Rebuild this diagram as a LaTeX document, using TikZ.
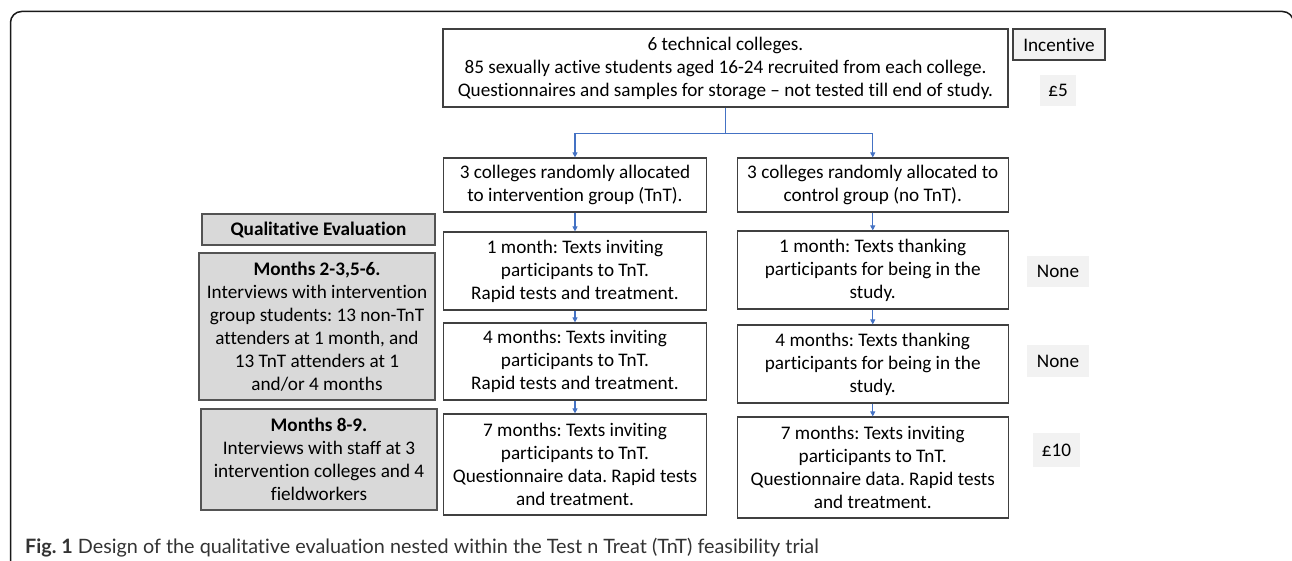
\documentclass[tikz,border=0pt]{standalone}
\usepackage{fontspec}
\setmainfont{Carlito}[Ligatures=NoCommon]
\newfontfamily\capfont{Lato}[Ligatures=NoCommon]
\usetikzlibrary{arrows.meta}
\frenchspacing
\definecolor{boxline}{HTML}{404040}
\definecolor{grayfill}{HTML}{D9D9D9}
\definecolor{lightfill}{HTML}{F2F2F2}
\definecolor{arrowblue}{HTML}{4472C4}
\definecolor{captext}{HTML}{333333}
\tikzset{
  box/.style={draw=boxline, line width=1.2pt, fill=white, align=center, inner sep=2pt,
    font=\fontsize{19.2}{23}\selectfont\frenchspacing, text=black},
  graybox/.style={box, fill=grayfill, draw=boxline!90},
  incbox/.style={box, fill=lightfill},
  payfill/.style={fill=lightfill, draw=none, align=center, inner sep=0pt,
    font=\fontsize{19.2}{23}\selectfont},
  conn/.style={draw=arrowblue, line width=1.1pt},
  arr/.style={conn, -{Triangle[length=5pt,width=5pt]}},
}
\begin{document}
\begin{tikzpicture}[x=1pt,y=-1pt]
\useasboundingbox (0,0) rectangle (1292,561);
\clip (0,0) rectangle (1292,561);
\fill[white] (0,0) rectangle (1292,561);
% outer frame
\draw[line width=1.5pt, rounded corners=11pt, black!90] (10.5,600) -- (10.5,11.5) -- (1293.5,11.5) -- (1293.5,600);

% main column
\node[box, minimum width=565, minimum height=78] (top) at (725.5,68)
  {6 technical colleges.\\85 sexually active students aged 16-24 recruited from each college.\\Questionnaires and samples for storage -- not tested till end of study.};
\node[incbox, minimum width=92, minimum height=31] (inc) at (1059,44.5) {Incentive};
\node[payfill, minimum width=36, minimum height=31] (p5) at (1058,90.5) {£5};

\node[box, minimum width=263, minimum height=54] (allocL) at (575,185)
  {3 colleges randomly allocated\\to intervention group (TnT).};
\node[box, minimum width=271, minimum height=54] (allocR) at (872.75,185)
  {3 colleges randomly allocated to\\control group (no TnT).};

\node[box, minimum width=263, minimum height=78] (m1L) at (575,271)
  {1 month: Texts inviting\\participants to TnT.\\Rapid tests and treatment.};
\node[box, minimum width=271, minimum height=78] (m1R) at (872.75,270)
  {1 month: Texts thanking\\participants for being in the\\study.};
\node[box, minimum width=263, minimum height=77] (m4L) at (575,361.5)
  {4 months: Texts inviting\\participants to TnT.\\Rapid tests and treatment.};
\node[box, minimum width=271, minimum height=78] (m4R) at (872.75,364)
  {4 months: Texts thanking\\participants for being in the\\study.};
\node[box, minimum width=263, minimum height=101] (m7L) at (575,464.5)
  {7 months: Texts inviting\\participants to TnT.\\Questionnaire data. Rapid tests\\and treatment.};
\node[box, minimum width=271, minimum height=101] (m7R) at (872.75,467.5)
  {7 months: Texts inviting\\participants to TnT.\\Questionnaire data. Rapid tests\\and treatment.};

% incentives
\node[payfill, minimum width=62, minimum height=31] (none1) at (1058,271.5) {None};
\node[payfill, minimum width=62, minimum height=32] (none2) at (1058,361) {None};
\node[payfill, minimum width=47, minimum height=34] (p10) at (1056.5,450) {£10};

% qualitative evaluation
\node[graybox, minimum width=233, minimum height=31] (qual) at (318.5,229.5)
  {\textbf{Qualitative Evaluation}};
\node[graybox, minimum width=236, minimum height=147] (q1) at (317,326.5)
  {\textbf{Months 2-3,5-6.}\\Interviews with intervention\\group students: 13 non-TnT\\attenders at 1 month, and\\13 TnT attenders at 1\\and/or 4 months};
\node[graybox, minimum width=236, minimum height=101] (q2) at (319,459.5)
  {\textbf{Months 8-9.}\\Interviews with staff at 3\\intervention colleges and 4\\fieldworkers};

% connectors
\draw[conn] (top.south) -- ++(0,26) coordinate (split);
\draw[arr] (split) -| (allocL.north);
\draw[arr] (split) -| (allocR.north);
\draw[arr] (allocL.south) -- (m1L.north);
\draw[arr] (m1L.south) -- (m4L.north);
\draw[arr] (m4L.south) -- (m7L.north);
\draw[arr] (allocR.south) -- (m1R.north);
\draw[arr] (m1R.south) -- (m4R.north);
\draw[arr] (m4R.south) -- (m7R.north);

% caption
\node[anchor=base west, inner sep=0pt, text=captext, font=\capfont\fontsize{19.8}{24}\selectfont\frenchspacing] (cap) at (25,553)
  {\textbf{Fig. 1} Design of the qualitative evaluation nested within the Test n Treat (TnT) feasibility trial};
\end{tikzpicture}
\end{document}
